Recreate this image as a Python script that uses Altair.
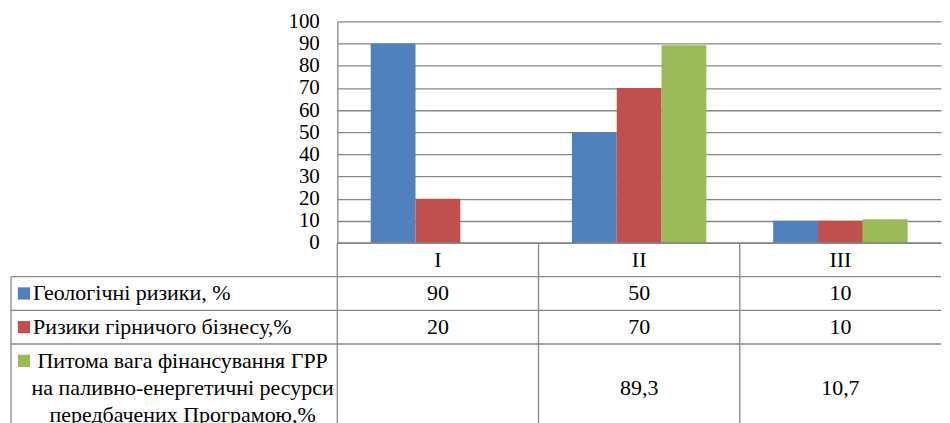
import altair as alt
import pandas as pd

# ---------------- data ----------------
categories = ["I", "II", "III"]
series_names = [
    "Геологічні ризики, %",
    "Ризики гірничого бізнесу,%",
    "Питома вага фінансування ГРР\nна паливно-енергетичні ресурси\nпередбачених Програмою,%",
]
geo_risk = [90, 50, 10]
mining_risk = [20, 70, 10]
funding_share = [None, 89.3, 10.7]
series_colors = ["#4F81BD", "#C0504D", "#9BBB59"]
y_ticks = list(range(0, 101, 10))

# ---------------- styling ----------------
FONT = "Liberation Serif, Times New Roman, DejaVu Serif, serif"
FS = 22
AXIS_FS = 21
GRID = "#878787"
LW = 1.3
PLOT_W = 605
PLOT_H = 222
LABEL_W = 327
LINE_PX = 27
ROW_PAD = 0.25

series_keys = ["s1", "s2", "s3"]
values = [geo_risk, mining_risk, funding_share]
color_scale = alt.Scale(domain=series_keys, range=series_colors)


def fmt(v):
    if v is None:
        return ""
    return f"{v:g}".replace(".", ",")


# bars
bar_rows = []
for k, vals in zip(series_keys, values):
    for c, v in zip(categories, vals):
        if v is not None:
            bar_rows.append({"cat": c, "s": k, "v": v})
bar_df = pd.DataFrame(bar_rows)

# table geometry derived from the number of text lines per row
row_keys = ["hdr"] + series_keys
line_counts = [1] + [n.count("\n") + 1 for n in series_names]
row_y0 = []
acc = 0.0
for n in line_counts:
    row_y0.append(acc)
    acc += n + ROW_PAD
total_units = acc
TABLE_H = total_units * LINE_PX

rows_df = pd.DataFrame({
    "key": row_keys,
    "y0": row_y0,
    "y1": [y + n + ROW_PAD for y, n in zip(row_y0, line_counts)],
    "lines": line_counts,
})

cell_rows = []
for c in categories:
    cell_rows.append({"cat": c, "key": "hdr", "t": c})
for k, vals in zip(series_keys, values):
    for c, v in zip(categories, vals):
        cell_rows.append({"cat": c, "key": k, "t": fmt(v)})
cells_df = pd.DataFrame(cell_rows).merge(rows_df, on="key")
cells_df["ym"] = (cells_df["y0"] + cells_df["y1"]) / 2

label_df = pd.DataFrame({"key": series_keys, "label": series_names}).merge(rows_df, on="key")
label_df["ym"] = (label_df["y0"] + label_df["y1"]) / 2
label_df["ysq"] = label_df["y0"] + ROW_PAD / 2 + 0.5

yscale_t = alt.Scale(domain=[0, total_units], reverse=True, nice=False, zero=False)

# ---------------- bar chart ----------------
bars = alt.Chart(bar_df).mark_bar().encode(
    x=alt.X("cat:N", sort=categories, axis=None,
            scale=alt.Scale(domain=categories, paddingInner=0.332, paddingOuter=0.166)),
    xOffset=alt.XOffset("s:N", scale=alt.Scale(domain=series_keys, paddingInner=0, paddingOuter=0)),
    y=alt.Y("v:Q", scale=alt.Scale(domain=[0, 100], nice=False),
            axis=alt.Axis(values=y_ticks, title=None, ticks=False, grid=True,
                          gridColor=GRID, gridWidth=LW, domainColor=GRID, domainWidth=LW,
                          labelFont=FONT, labelFontSize=AXIS_FS, labelColor="black",
                          labelPadding=18, labelOverlap=False)),
    color=alt.Color("s:N", scale=color_scale, legend=None),
).properties(width=PLOT_W, height=PLOT_H)

# blank corner above the label column
empty = alt.Chart(pd.DataFrame({"a": [0]})).mark_rect(opacity=0).encode(
    x=alt.value(0), x2=alt.value(1), y=alt.value(0), y2=alt.value(1)
).properties(width=LABEL_W, height=PLOT_H)

# ---------------- table: value cells ----------------
xscale_t = alt.Scale(domain=categories, paddingInner=0, paddingOuter=0)
bottom_df = pd.DataFrame({"y0": [total_units]})

c_hrules = alt.Chart(pd.concat([rows_df[["y0"]], bottom_df])).mark_rule(color=GRID, strokeWidth=LW).encode(
    y=alt.Y("y0:Q", scale=yscale_t, axis=None)
)
c_vrules = alt.Chart(pd.DataFrame({"cat": categories})).mark_rule(color=GRID, strokeWidth=LW).encode(
    x=alt.X("cat:N", sort=categories, scale=xscale_t, axis=None, bandPosition=0)
)
c_text = alt.Chart(cells_df).mark_text(font=FONT, fontSize=FS, color="black", baseline="middle").encode(
    x=alt.X("cat:N", sort=categories, scale=xscale_t, axis=None),
    y=alt.Y("ym:Q", scale=yscale_t, axis=None),
    text="t:N",
)
cells = alt.layer(c_hrules, c_vrules, c_text).properties(width=PLOT_W, height=TABLE_H)

# ---------------- table: series labels ----------------
lab_rows = rows_df[rows_df["key"] != "hdr"][["y0"]]
l_hrules = alt.Chart(pd.concat([lab_rows, bottom_df])).mark_rule(color=GRID, strokeWidth=LW).encode(
    y=alt.Y("y0:Q", scale=yscale_t, axis=None)
)
l_vrule = alt.Chart(pd.DataFrame({"ya": [row_y0[1]], "yb": [total_units]})).mark_rule(
    color=GRID, strokeWidth=LW).encode(
    x=alt.value(0),
    y=alt.Y("ya:Q", scale=yscale_t, axis=None),
    y2="yb:Q",
)
l_sq = alt.Chart(label_df).mark_square(size=150, opacity=1).encode(
    x=alt.value(13),
    y=alt.Y("ysq:Q", scale=yscale_t, axis=None),
    color=alt.Color("key:N", scale=color_scale, legend=None),
)
l_text1 = alt.Chart(label_df).transform_filter("datum.lines == 1").mark_text(
    font=FONT, fontSize=FS, color="black", baseline="middle", align="left").encode(
    x=alt.value(22),
    y=alt.Y("ym:Q", scale=yscale_t, axis=None),
    text="label:N",
)
l_text3 = alt.Chart(label_df).transform_filter("datum.lines > 1").mark_text(
    font=FONT, fontSize=FS, color="black", baseline="middle", align="center",
    lineBreak="\n", lineHeight=LINE_PX).encode(
    x=alt.value(172),
    y=alt.Y("ysq:Q", scale=yscale_t, axis=None),
    text="label:N",
)
labels = alt.layer(l_hrules, l_vrule, l_sq, l_text1, l_text3).properties(width=LABEL_W, height=TABLE_H)

chart = alt.concat(empty, bars, labels, cells, columns=2, spacing=0, bounds="flush").properties(
    padding={"left": 2, "top": 2, "right": 0, "bottom": 0},
    background="white",
).configure_view(stroke=None, strokeWidth=0)

chart.save("out.html", embed_options={"renderer": "svg", "actions": False})
